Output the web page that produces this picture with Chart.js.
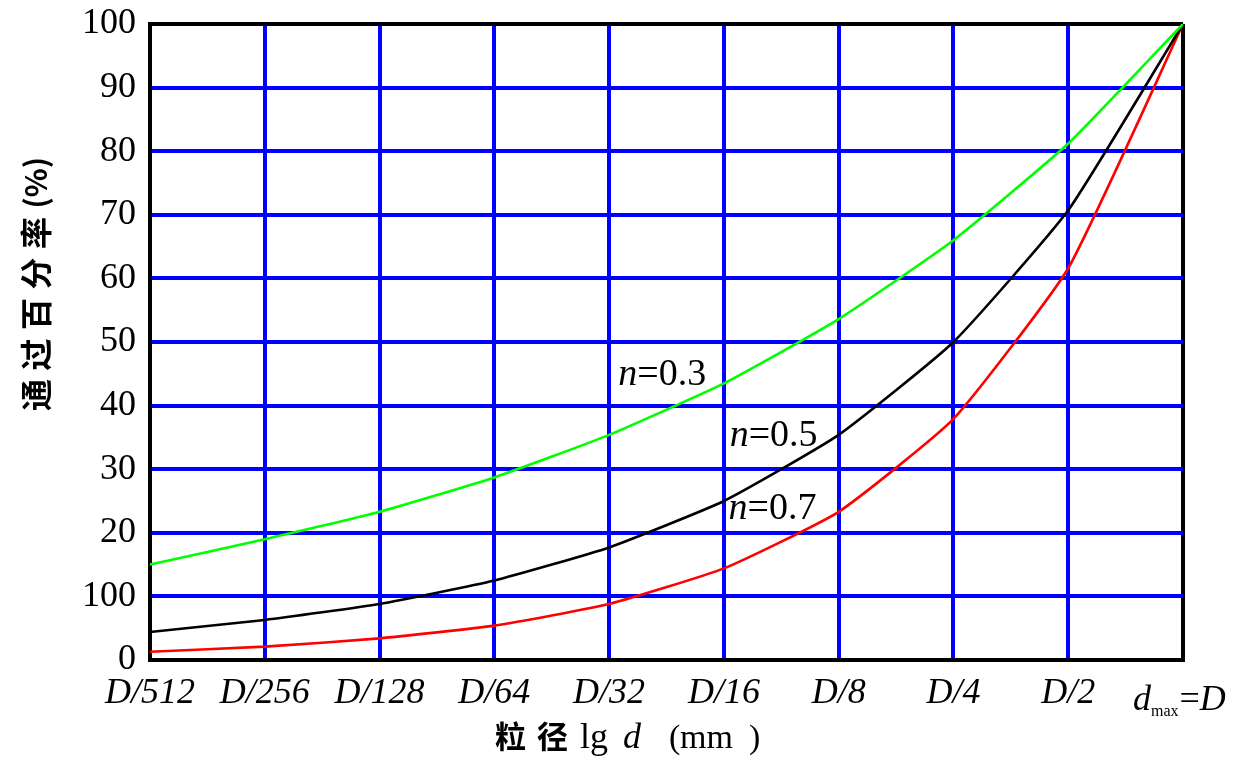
<!DOCTYPE html>
<html>
<head>
<meta charset="utf-8">
<style>
html,body{margin:0;padding:0;background:#fff;}
#wrap{width:1249px;height:761px;position:relative;}
</style>
<script src="https://cdn.jsdelivr.net/npm/chart.js@4/dist/chart.umd.min.js"></script>
</head>
<body>
<div id="wrap"><canvas id="c" width="1249" height="761"></canvas></div>
<script>
// ---- data ----
const categories = ['D/512','D/256','D/128','D/64','D/32','D/16','D/8','D/4','D/2','d_max=D'];
const yTickLabels = ['0','100','20','30','40','50','60','70','80','90','100'];
const seriesN03 = [15, 19, 23.3, 28.7, 35.4, 43.5, 53.6, 66, 81.2, 100];
const seriesN05 = [4.4, 6.3, 8.8, 12.5, 17.7, 25, 35.4, 50, 70.7, 100];
const seriesN07 = [1.3, 2.1, 3.4, 5.4, 8.8, 14.4, 23.3, 37.9, 61.6, 100];
const curveNames = ['n=0.3','n=0.5','n=0.7'];
const labelAnchorX = [4.08, 5.05, 5.04];
const labelAnchorY = [44.8, 35.2, 23.7];
const yTitle = '通过百分率(%)';
const xTitleParts = ['粒径', 'lg', 'd', '（mm）'];

const toPts = arr => arr.map((v,i)=>({x:i,y:v}));

const serif = '"Liberation Serif","DejaVu Serif",serif';
const cjk = '"Noto Sans CJK SC","Noto Sans CJK TC",sans-serif';

const textPlugin = {
  id:'textPlugin',
  afterDraw(chart){
    const ctx = chart.ctx;
    const xs = chart.scales.x, ys = chart.scales.y;
    const ca = chart.chartArea;
    ctx.save();
    ctx.fillStyle = '#000';
    ctx.textBaseline = 'middle';
    // curve annotations
    curveNames.forEach((name,i)=>{
      const px = xs.getPixelForValue(labelAnchorX[i]);
      const py = ys.getPixelForValue(labelAnchorY[i]);
      ctx.textAlign = 'left';
      ctx.font = 'italic 38px ' + serif;
      ctx.fillText(name[0], px, py);
      const w = ctx.measureText(name[0]).width;
      ctx.font = '38px ' + serif;
      ctx.fillText(name.slice(1), px + w, py);
    });
    // last x label: d_max = D
    const lx = xs.getPixelForValue(categories.length-1);
    const by = ca.bottom + 50;
    ctx.textBaseline = 'alphabetic';
    ctx.textAlign = 'left';
    let x0 = lx - 50;
    ctx.font = 'italic 36px ' + serif;
    ctx.fillText('d', x0, by);
    x0 += ctx.measureText('d').width;
    ctx.font = '16px ' + serif;
    ctx.fillText('max', x0, by + 6);
    x0 += ctx.measureText('max').width + 1;
    ctx.font = '36px ' + serif;
    ctx.fillText('=', x0, by);
    x0 += ctx.measureText('=').width;
    ctx.font = 'italic 36px ' + serif;
    ctx.fillText('D', x0, by);
    // y axis title (rotated)
    ctx.save();
    ctx.translate(36, ca.top + 387);
    ctx.rotate(-Math.PI/2);
    ctx.textBaseline = 'middle';
    ctx.textAlign = 'left';
    ctx.font = 'bold 32px ' + cjk;
    const chars = Array.from(yTitle.replace('(%)',''));
    chars.forEach((ch,i)=>{ ctx.fillText(ch, i*40.5, 0); });
    ctx.font = 'bold 30px ' + cjk;
    ctx.fillText('(%)', chars.length*40.5, 0);
    ctx.restore();
    // x axis title
    const ty = ca.bottom + 88;
    ctx.textBaseline = 'alphabetic';
    ctx.font = 'bold 31px ' + cjk;
    const cx0 = ca.left + 345;
    Array.from(xTitleParts[0]).forEach((ch,i)=>ctx.fillText(ch, cx0 + i*42, ty));
    ctx.font = '36px ' + serif;
    ctx.fillText(xTitleParts[1], cx0 + 85, ty);
    ctx.font = 'italic 36px ' + serif;
    ctx.fillText(xTitleParts[2], cx0 + 128, ty);
    ctx.font = '34px ' + serif;
    ctx.fillText('(', cx0 + 174, ty);
    ctx.fillText('mm', cx0 + 185, ty);
    ctx.fillText(')', cx0 + 254, ty);
    ctx.restore();
  }
};

new Chart(document.getElementById('c'), {
  type:'line',
  data:{
    datasets:[
      {label:'n=0.3', data:toPts(seriesN03), borderColor:'#00ff00', borderWidth:2.6, pointRadius:0, tension:0.15, fill:false},
      {label:'n=0.5', data:toPts(seriesN05), borderColor:'#000000', borderWidth:2.6, pointRadius:0, tension:0.15, fill:false},
      {label:'n=0.7', data:toPts(seriesN07), borderColor:'#ff0000', borderWidth:2.6, pointRadius:0, tension:0.15, fill:false}
    ]
  },
  options:{
    responsive:false,
    animation:false,
    devicePixelRatio:1,
    layout:{padding:{left:0,right:66,top:24,bottom:0}},
    plugins:{legend:{display:false}, tooltip:{enabled:false}},
    scales:{
      x:{
        type:'linear', min:0, max:categories.length-1,
        afterFit(s){ s.height = 101; s.paddingLeft = 0; s.paddingRight = 0; },
        afterBuildTicks(s){ s.ticks = categories.map((c,i)=>({value:i})); },
        ticks:{
          stepSize:1, autoSkip:false, maxRotation:0, padding:12,
          color:'#000',
          font:{family:serif, size:36, style:'italic'},
          callback:(v)=> (v < categories.length-1 ? categories[v] : '')
        },
        grid:{
          drawTicks:false,
          lineWidth:4,
          color:(c)=> (c.tick && (c.tick.value===0 || c.tick.value===categories.length-1)) ? '#000' : '#0000ff'
        },
        border:{display:true, color:'#000', width:4}
      },
      y:{
        type:'linear', min:0, max:100,
        afterFit(s){ s.width = 150; s.paddingTop = 0; s.paddingBottom = 0; },
        afterBuildTicks(s){ s.ticks = yTickLabels.map((t,i)=>({value:i*10})); },
        ticks:{
          stepSize:10, padding:14, color:'#000',
          font:{family:serif, size:36},
          callback:(v)=> yTickLabels[Math.round(v/10)]
        },
        grid:{
          drawTicks:false,
          lineWidth:4,
          color:(c)=> (c.tick && (c.tick.value===0 || c.tick.value===100)) ? '#000' : '#0000ff'
        },
        border:{display:true, color:'#000', width:4}
      }
    }
  },
  plugins:[textPlugin]
});
</script>
</body>
</html>
